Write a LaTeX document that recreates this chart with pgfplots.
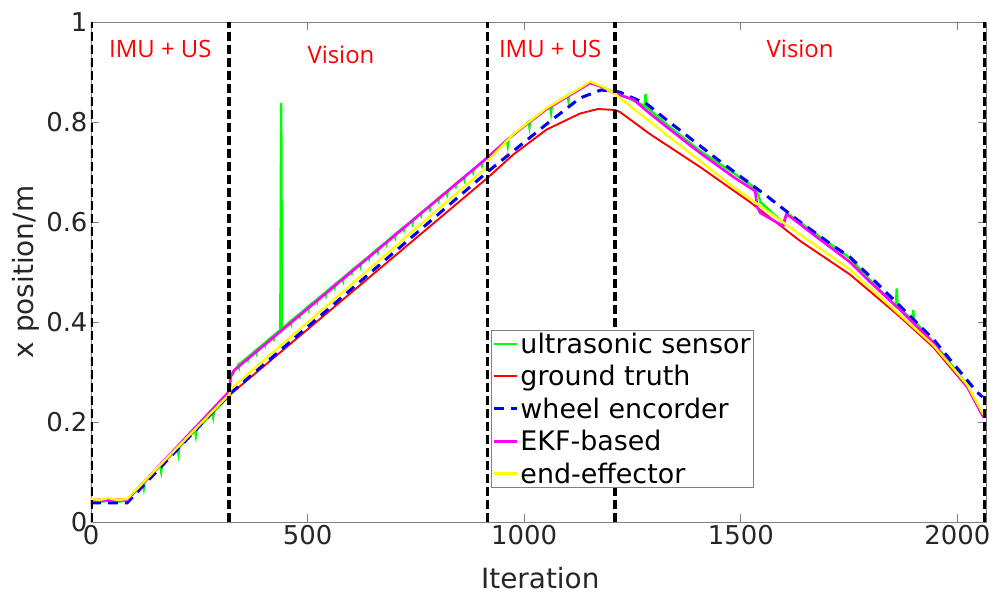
\documentclass[border=0pt]{standalone}
\usepackage{pgfplots}
\pgfplotsset{compat=1.18}
\usepackage{fontspec}
\setmainfont{DejaVu Sans}
\newfontfamily\osans{Open Sans}
\definecolor{axgray}{rgb}{0.5,0.5,0.5}
\definecolor{txtgray}{rgb}{0.15,0.15,0.15}
\begin{document}
\begin{tikzpicture}
\begin{axis}[
  scale only axis, width=895bp, height=500bp,
  xmin=0, xmax=2066, ymin=0, ymax=1,
  xtick={0,500,1000,1500,2000}, ytick={0,0.2,0.4,0.6,0.8,1},
  /pgf/number format/1000 sep={},
  /pgf/number format/assume math mode=true,
  tick align=inside, major tick length=8bp,
  axis line style={axgray, line width=0.8bp},
  tick style={axgray, line width=0.8bp},
  ticklabel style={font=\fontsize{26}{30}\selectfont, text=txtgray},
  xlabel={Iteration}, ylabel={x position/m},
  label style={font=\fontsize{28}{32}\selectfont, text=txtgray},
  xlabel style={at={(axis description cs:0.502,-0.112)}, anchor=center},
  ylabel style={at={(axis description cs:-0.0726,0.5)}, anchor=center, rotate=0},
  legend style={at={(0.447,0.068)}, anchor=south west, draw=axgray, line width=0.8bp,
    font=\fontsize{27}{29}\selectfont, inner sep=1bp, row sep=6.5bp},
  legend cell align=left,
  legend image code/.code={\draw[#1] (0bp,0bp) -- (23bp,0bp);},
  clip=true,
]
% ultrasonic sensor
\addplot[color={rgb,1:red,0;green,1;blue,0}, line width=2.4bp] coordinates {
(0,0.044)(20,0.040)(40,0.043)(60,0.040)(83,0.044)
(120,0.078)(122,0.068)(124,0.080)(160,0.113)(162,0.102)(164,0.115)
(200,0.148)(202,0.137)(204,0.150)(240,0.183)(242,0.173)(244,0.185)
(280,0.219)(282,0.210)(284,0.221)(318,0.252)(320,0.262)(322,0.290)(330,0.300)
(340,0.314)(342,0.309)(344,0.317)(360,0.328)(362,0.324)(364,0.331)(380,0.343)(382,0.338)(384,0.346)
(400,0.357)(402,0.353)(404,0.360)(420,0.372)(422,0.367)(424,0.375)(437,0.384)(439,0.838)(440,0.612)(441,0.386)
(460,0.401)(462,0.396)(464,0.404)(480,0.415)(482,0.411)(484,0.418)(500,0.430)(502,0.425)(504,0.433)
(520,0.444)(522,0.440)(524,0.447)(540,0.458)(542,0.453)(544,0.461)(560,0.473)(562,0.469)(564,0.476)
(580,0.487)(582,0.482)(584,0.490)(600,0.502)(602,0.498)(604,0.505)
(620,0.516)(622,0.511)(624,0.519)(640,0.530)(642,0.526)(644,0.533)(660,0.545)(662,0.540)(664,0.548)
(680,0.559)(682,0.555)(684,0.562)(700,0.574)(702,0.569)(704,0.577)(720,0.588)(722,0.584)(724,0.591)
(740,0.602)(742,0.597)(744,0.605)(760,0.617)(762,0.613)(764,0.620)
(780,0.631)(782,0.626)(784,0.634)(800,0.646)(802,0.642)(804,0.649)(820,0.660)(822,0.655)(824,0.663)
(840,0.675)(842,0.671)(844,0.678)(860,0.689)(862,0.684)(864,0.692)(880,0.703)(882,0.699)(884,0.706)
(900,0.718)(902,0.713)(904,0.721)(914,0.728)
(960,0.764)(962,0.753)(964,0.766)(1010,0.800)(1012,0.790)(1014,0.802)
(1060,0.831)(1062,0.819)(1064,0.833)(1100,0.853)(1102,0.843)(1104,0.855)
(1129,0.866)(1152,0.879)(1180,0.870)(1210,0.858)(1240,0.848)(1278,0.832)(1280,0.856)(1282,0.830)
(1329,0.795)(1406,0.742)(1483,0.698)(1533,0.668)(1540,0.655)(1545,0.640)(1598,0.598)(1606,0.618)
(1675,0.575)(1752,0.528)(1791,0.490)(1858,0.432)(1860,0.467)(1862,0.430)
(1896,0.405)(1898,0.424)(1900,0.403)(1944,0.360)(2022,0.275)(2060,0.212)};
\addlegendentry{ultrasonic sensor}
% ground truth
\addplot[color={rgb,1:red,1;green,0;blue,0}, line width=1.9bp] coordinates {
(0,0.045)(83,0.045)(320,0.254)(915,0.688)(975,0.735)(1052,0.785)(1129,0.817)(1170,0.826)(1210,0.824)
(1221,0.820)(1290,0.776)(1406,0.710)(1521,0.640)(1637,0.562)(1752,0.495)(1868,0.410)(1944,0.350)(2022,0.270)(2060,0.210)};
\addlegendentry{ground truth}
% wheel encoder
\addplot[color={rgb,1:red,0;green,0;blue,1}, line width=3bp, dash pattern=on 10bp off 7bp] coordinates {
(0,0.038)(83,0.038)(320,0.256)(915,0.700)(1052,0.796)(1129,0.848)(1177,0.864)(1220,0.860)
(1283,0.836)(1329,0.804)(1445,0.726)(1560,0.652)(1637,0.600)(1714,0.552)(1752,0.530)(1829,0.465)(1944,0.366)(2045,0.260)(2058,0.250)};
\addlegendentry{wheel encorder}
% EKF-based
\addplot[color={rgb,1:red,1;green,0;blue,1}, line width=2.6bp] coordinates {
(0,0.043)(83,0.044)(320,0.262)(322,0.290)(330,0.303)(914,0.728)(975,0.775)(1052,0.826)(1129,0.866)(1152,0.878)(1180,0.870)(1210,0.857)
(1252,0.845)(1283,0.822)(1329,0.790)(1406,0.738)(1483,0.690)(1533,0.662)(1538,0.630)(1545,0.618)(1598,0.592)(1605,0.615)(1612,0.612)
(1675,0.570)(1752,0.520)(1791,0.486)(1868,0.424)(1944,0.358)(2022,0.272)(2060,0.210)};
\addlegendentry{EKF-based}
% end-effector
\addplot[color={rgb,1:red,1;green,1;blue,0}, line width=2.3bp] coordinates {
(0,0.046)(20,0.044)(40,0.048)(60,0.044)(83,0.046)(320,0.256)(322,0.266)(914,0.710)(916,0.722)
(975,0.776)(1052,0.828)(1129,0.868)(1152,0.881)(1180,0.871)(1210,0.857)
(1221,0.848)(1329,0.774)(1483,0.670)(1637,0.575)(1752,0.505)(1791,0.474)(1944,0.354)(2022,0.275)(2060,0.215)};
\addlegendentry{end-effector}
% phase separators
\addplot[black, line width=3.6bp, dash pattern=on 9bp off 4bp, forget plot] coordinates {(1,0)(1,1)};
\addplot[black, line width=3.6bp, dash pattern=on 9bp off 4bp, forget plot] coordinates {(319,0)(319,1)};
\addplot[black, line width=3.6bp, dash pattern=on 9bp off 4bp, forget plot] coordinates {(915,0)(915,1)};
\addplot[black, line width=3.6bp, dash pattern=on 9bp off 4bp, forget plot] coordinates {(1210,0)(1210,1)};
\addplot[black, line width=3.6bp, dash pattern=on 9bp off 4bp, forget plot] coordinates {(2064,0)(2064,1)};
\node[text={rgb,1:red,1;green,0;blue,0}, font=\osans\fontsize{24}{28}\selectfont] at (axis cs:160,0.946) {IMU + US};
\node[text={rgb,1:red,1;green,0;blue,0}, font=\osans\fontsize{24}{28}\selectfont] at (axis cs:577,0.934) {Vision};
\node[text={rgb,1:red,1;green,0;blue,0}, font=\osans\fontsize{24}{28}\selectfont] at (axis cs:1060,0.946) {IMU + US};
\node[text={rgb,1:red,1;green,0;blue,0}, font=\osans\fontsize{24}{28}\selectfont] at (axis cs:1637,0.946) {Vision};
\end{axis}
\pgfresetboundingbox
\path[use as bounding box] ([xshift=-91bp,yshift=-75bp]current axis.south west) rectangle ([xshift=12bp,yshift=22bp]current axis.north east);
\end{tikzpicture}
\end{document}
